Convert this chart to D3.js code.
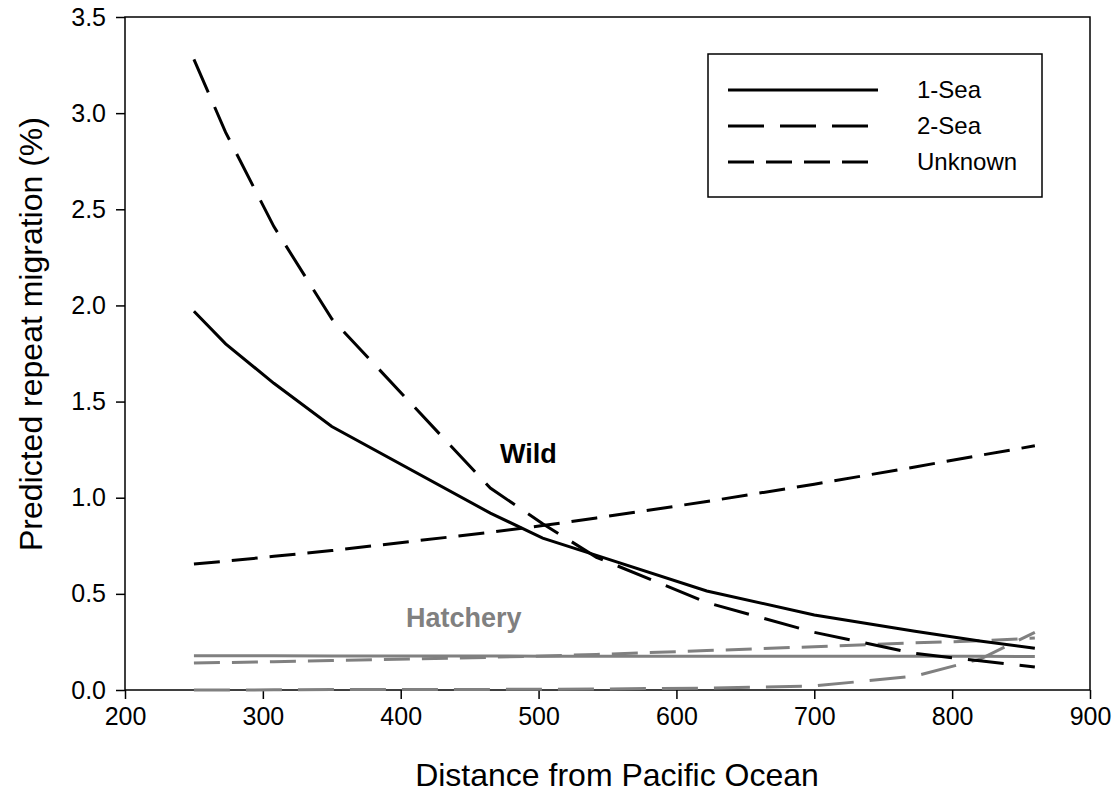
<!DOCTYPE html>
<html>
<head>
<meta charset="utf-8">
<script src="https://cdn.jsdelivr.net/npm/d3@7"></script>
<style>
  body { margin: 0; background: #fff; }
  svg { font-family: "Liberation Sans", Arial, sans-serif; }
  .axis text { font-size: 25px; fill: #000; }
  .axis path, .axis line { stroke: #000; stroke-width: 1.5px; }
  .axis-title { font-size: 32px; fill: #000; }
  .legend text { font-size: 24px; }
</style>
</head>
<body>
<svg id="chart"></svg>
<script>
// distances (km) where the predictions were evaluated
const distance = [250, 273, 308, 350, 465, 503, 542, 622, 700, 773, 820, 860];

// wild fish
const wild1Sea     = [1.97, 1.80, 1.595, 1.37, 0.92, 0.79, 0.70, 0.515, 0.39, 0.305, 0.255, 0.217];
const wild2Sea     = [3.28, 2.90, 2.41, 1.93, 1.05, 0.865, 0.69, 0.455, 0.30, 0.19, 0.152, 0.12];
const wildUnknown  = [0.655, 0.67, 0.695, 0.725, 0.82, 0.855, 0.895, 0.98, 1.07, 1.16, 1.22, 1.27];

// hatchery fish
const hatch1Sea    = [0.178, 0.178, 0.178, 0.177, 0.177, 0.176, 0.176, 0.176, 0.175, 0.175, 0.175, 0.174];
const hatch2Sea    = [0.0, 0.0, 0.001, 0.002, 0.003, 0.004, 0.005, 0.01, 0.021, 0.072, 0.16, 0.30];
const hatchUnknown = [0.14, 0.143, 0.147, 0.153, 0.17, 0.177, 0.185, 0.205, 0.225, 0.245, 0.256, 0.27];

const xTicks = [200, 300, 400, 500, 600, 700, 800, 900];
const yTicks = [0, 0.5, 1.0, 1.5, 2.0, 2.5, 3.0, 3.5];
const legendLabels = ['1-Sea', '2-Sea', 'Unknown'];

const dashes = { '1-Sea': null, '2-Sea': '36,16', 'Unknown': '26,12' };

const config = {
  containerWidth: 1113,
  containerHeight: 802,
  margin: {top: 17, right: 23, bottom: 112, left: 125}
};

const width = config.containerWidth - config.margin.left - config.margin.right;
const height = config.containerHeight - config.margin.top - config.margin.bottom;

const svg = d3.select('#chart')
    .attr('width', config.containerWidth)
    .attr('height', config.containerHeight);

const chart = svg.append('g')
    .attr('transform', `translate(${config.margin.left},${config.margin.top})`);

const xScale = d3.scaleLinear().domain([200, 900]).range([0, width]);
const yScale = d3.scaleLinear().domain([0, 3.5]).range([height, 0]);

// axes
const xAxis = d3.axisBottom(xScale).tickValues(xTicks).tickSize(9).tickPadding(8).tickFormat(d3.format('d'));
const yAxis = d3.axisLeft(yScale).tickValues(yTicks).tickSize(9).tickPadding(10).tickFormat(d3.format('.1f'));

chart.append('g')
    .attr('class', 'axis x-axis')
    .attr('transform', `translate(0,${height})`)
    .call(xAxis)
    .call(g => g.select('.domain').remove());

chart.append('g')
    .attr('class', 'axis y-axis')
    .call(yAxis)
    .call(g => g.select('.domain').remove());

// frame round the plot
chart.append('rect')
    .attr('width', width)
    .attr('height', height)
    .attr('fill', 'none')
    .attr('stroke', '#000')
    .attr('stroke-width', 1.5);

const line = d3.line()
    .x(d => xScale(d[0]))
    .y(d => yScale(d[1]));

const series = [
  {values: hatch1Sea, type: '1-Sea', color: '#808080'},
  {values: hatch2Sea, type: '2-Sea', color: '#808080'},
  {values: hatchUnknown, type: 'Unknown', color: '#808080'},
  {values: wild1Sea, type: '1-Sea', color: '#000'},
  {values: wild2Sea, type: '2-Sea', color: '#000'},
  {values: wildUnknown, type: 'Unknown', color: '#000'}
];

chart.selectAll('.series')
    .data(series)
  .join('path')
    .attr('class', 'series')
    .attr('d', s => line(distance.map((x, i) => [x, s.values[i]])))
    .attr('fill', 'none')
    .attr('stroke', s => s.color)
    .attr('stroke-width', 3)
    .attr('stroke-dasharray', s => dashes[s.type]);

// group labels
chart.append('text')
    .attr('x', 500 - config.margin.left)
    .attr('y', 463 - config.margin.top)
    .attr('font-size', 27)
    .attr('font-weight', 'bold')
    .attr('fill', '#000')
    .text('Wild');

chart.append('text')
    .attr('x', 406 - config.margin.left)
    .attr('y', 627 - config.margin.top)
    .attr('font-size', 27)
    .attr('font-weight', 'bold')
    .attr('fill', '#808080')
    .text('Hatchery');

// legend
const legend = svg.append('g')
    .attr('class', 'legend')
    .attr('transform', 'translate(708,54)');

legend.append('rect')
    .attr('width', 334)
    .attr('height', 143)
    .attr('fill', '#fff')
    .attr('stroke', '#000')
    .attr('stroke-width', 1.5);

const rows = legend.selectAll('.row')
    .data(legendLabels)
  .join('g')
    .attr('class', 'row')
    .attr('transform', (d, i) => `translate(0,${36 + i * 36})`);

rows.append('line')
    .attr('x1', 20)
    .attr('x2', 170)
    .attr('stroke', '#000')
    .attr('stroke-width', 3)
    .attr('stroke-dasharray', d => dashes[d]);

rows.append('text')
    .attr('x', 209)
    .attr('dy', '0.35em')
    .text(d => d);

// axis titles
svg.append('text')
    .attr('class', 'axis-title')
    .attr('x', 617)
    .attr('y', 786)
    .attr('text-anchor', 'middle')
    .text('Distance from Pacific Ocean');

svg.append('text')
    .attr('class', 'axis-title')
    .attr('transform', 'translate(42,334) rotate(-90)')
    .attr('text-anchor', 'middle')
    .text('Predicted repeat migration (%)');
</script>
</body>
</html>
